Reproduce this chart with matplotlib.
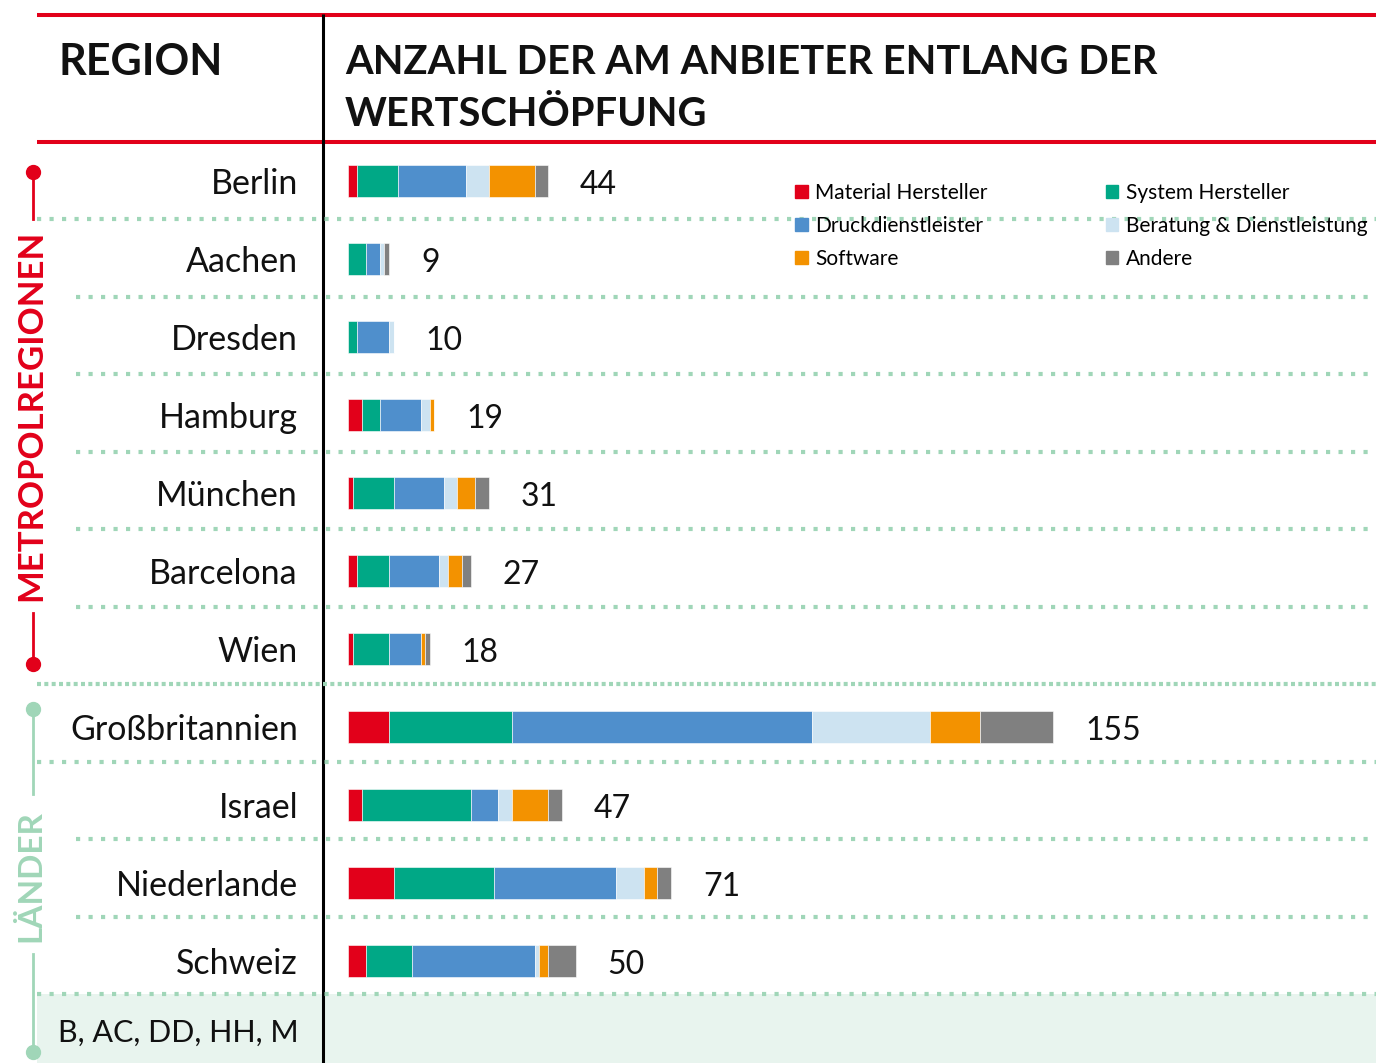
import matplotlib.pyplot as plt
from matplotlib.patches import Rectangle, Patch

regions = ["Berlin", "Aachen", "Dresden", "Hamburg", "München", "Barcelona", "Wien",
           "Großbritannien", "Israel", "Niederlande", "Schweiz"]
material = [2, 0, 0, 3, 1, 2, 1, 9, 3, 10, 4]
system = [9, 4, 2, 4, 9, 7, 8, 27, 24, 22, 10]
druck = [15, 3, 7, 9, 11, 11, 7, 66, 6, 27, 27]
beratung = [5, 1, 1, 2, 3, 2, 0, 26, 3, 6, 1]
software = [10, 0, 0, 1, 4, 3, 1, 11, 8, 3, 2]
andere = [3, 1, 0, 0, 3, 2, 1, 16, 3, 3, 6]
totals = [44, 9, 10, 19, 31, 27, 18, 155, 47, 71, 50]

series = [("Material Hersteller", material, "#e2001a"),
          ("System Hersteller", system, "#00a886"),
          ("Druckdienstleister", druck, "#4f8fcc"),
          ("Beratung & Dienstleistung", beratung, "#cde3f1"),
          ("Software", software, "#f39200"),
          ("Andere", andere, "#808080")]

RED = "#e2001a"
GREEN = "#a0d6b8"
FONT = "Lato"

W, H = 1376, 1063
fig = plt.figure(figsize=(W / 100, H / 100), dpi=100)

# decoration layer in pixel coordinates
deco = fig.add_axes([0, 0, 1, 1])
deco.set_xlim(0, W)
deco.set_ylim(H, 0)
deco.axis("off")

deco.add_patch(Rectangle((37, 994), W - 37, H - 994, color="#e8f4ee", lw=0))
deco.plot([37, W], [15, 15], color=RED, lw=2.9, solid_capstyle="butt")
deco.plot([37, W], [142, 142], color=RED, lw=2.9, solid_capstyle="butt")
deco.plot([323, 323], [14, H], color="black", lw=2.2, solid_capstyle="butt")

row_h = (994 - 142) / 11
for k in range(1, 12):
    y = 142 + k * row_h
    x0 = 37 if k in (1, 7, 8, 11) else 76
    if k == 7:
        deco.plot([x0, W], [y, y], color=GREEN, lw=3, ls=(0, (0.96, 0.8)),
                  dash_capstyle="butt")
    else:
        deco.plot([x0, W], [y, y], color=GREEN, lw=3, ls=(0, (1, 2)),
                  dash_capstyle="butt")

# group brackets on the left
deco.plot([33, 33], [172, 219], color=RED, lw=2)
deco.plot([33, 33], [613, 664], color=RED, lw=2)
deco.plot([33], [172], marker="o", ms=10, color=RED)
deco.plot([33], [664], marker="o", ms=10, color=RED)
deco.text(31, 415, "METROPOLREGIONEN", rotation=90, ha="center", va="center",
          color=RED, fontsize=25, fontweight="bold", family=FONT)
deco.plot([33, 33], [709, 794], color=GREEN, lw=2)
deco.plot([33, 33], [954, 1052], color=GREEN, lw=2)
deco.plot([33], [709], marker="o", ms=10, color=GREEN)
deco.plot([33], [1052], marker="o", ms=10, color=GREEN)
deco.text(31, 876, "LÄNDER", rotation=90, ha="center", va="center",
          color=GREEN, fontsize=24, fontweight="bold", family=FONT)

# headers
deco.text(58, 62, "REGION", ha="left", va="center", fontsize=31,
          fontweight="bold", family=FONT, color="#111111")
t1 = deco.text(345, 62, "ANZAHL DER AM ANBIETER ENTLANG DER", ha="left",
               va="center", fontsize=31, fontweight="bold", family=FONT,
               color="#111111")
t2 = deco.text(345, 114, "WERTSCHÖPFUNG", ha="left", va="center", fontsize=31,
               fontweight="bold", family=FONT, color="#111111")
r = fig.canvas.get_renderer()
wdt = t1.get_window_extent(r).width
fs = 31 * 810 / wdt
t1.set_fontsize(fs)
t2.set_fontsize(fs)

deco.text(58, 1033, "B, AC, DD, HH, M", ha="left", va="center", fontsize=22,
          family=FONT, color="#111111")

# bars
px = 4.55
ax = fig.add_axes([348 / W, 1 - 994 / H, (W - 348) / W, 852 / H])
ax.patch.set_visible(False)
ax.set_xlim(0, (W - 348) / px)
ax.set_ylim(-0.5 + 852 / 78.0, -0.5)

ypos = list(range(len(regions)))
left = [0] * len(regions)
for name, vals, col in series:
    ax.barh(ypos, vals, left=left, height=0.41, color=col,
            edgecolor="white", linewidth=0.4, label=name)
    left = [l + v for l, v in zip(left, vals)]

for i, t in enumerate(totals):
    ax.annotate(str(t), xy=(t, i), xytext=(23, -3), textcoords="offset points",
                va="center", ha="left", fontsize=23, family=FONT, color="#111111")

ax.set_yticks(ypos)
ax.set_yticklabels(regions, fontsize=24.5, family=FONT, color="#111111")
ax.tick_params(axis="y", length=0, pad=36)
ax.set_xticks([])
for s in ax.spines.values():
    s.set_visible(False)

colors = dict((n, c) for n, v, c in series)
order = ["Material Hersteller", "Druckdienstleister", "Software",
         "System Hersteller", "Beratung & Dienstleistung", "Andere"]
fig.legend([Patch(color=colors[o]) for o in order], order, ncol=2,
           loc="upper left", bbox_to_anchor=(795 / W, 1 - 183 / H),
           frameon=False, prop={"family": FONT, "size": 15},
           handlelength=0.6, handleheight=0.6, handletextpad=0.35,
           columnspacing=5.7, labelspacing=0.62, borderpad=0,
           borderaxespad=0)

fig.savefig("out.png", dpi=100)
